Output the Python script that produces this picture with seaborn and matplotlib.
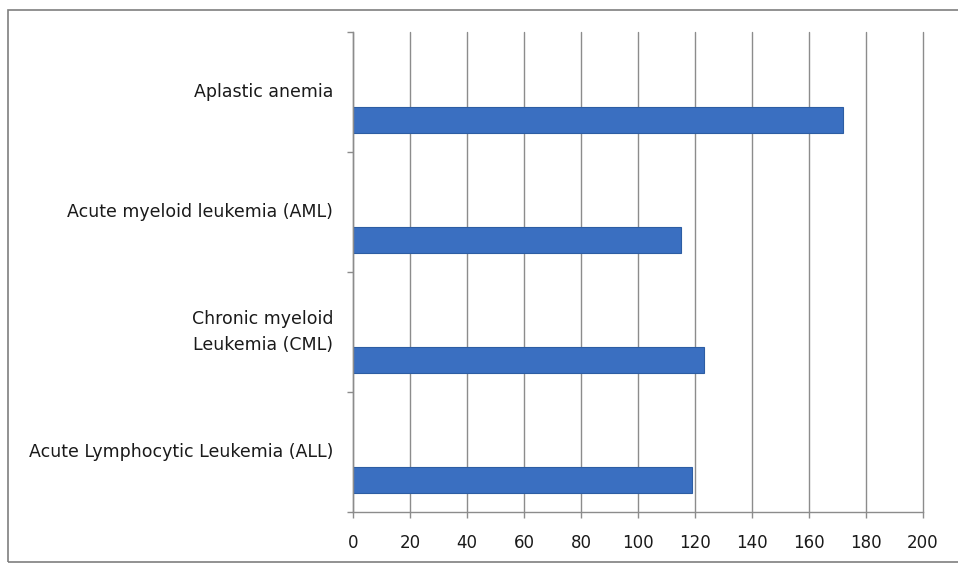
import matplotlib
matplotlib.use("Agg")
import matplotlib.pyplot as plt
import matplotlib.transforms as mtransforms
from matplotlib.patches import Rectangle
import numpy as np
import pandas as pd
import seaborn as sns

# Chart data
categories = [
    "Aplastic anemia",
    "Acute myeloid leukemia (AML)",
    "Chronic myeloid\nLeukemia (CML)",
    "Acute Lymphocytic Leukemia (ALL)",
]
cases = [172, 115, 123, 119]
x_ticks = [0, 20, 40, 60, 80, 100, 120, 140, 160, 180, 200]

sns.set_theme(style="white")
plt.rcParams["font.family"] = ["DejaVu Sans"]

# Two-series layout (second series empty) so each bar sits low in its band
df = pd.DataFrame({
    "category": categories * 2,
    "value": [np.nan] * len(categories) + cases,
    "series": ["blank"] * len(categories) + ["cases"] * len(categories),
})

fig = plt.figure(figsize=(9.58, 5.65), dpi=100)
ax = fig.add_axes([353 / 958, 1 - 512 / 565, (923 - 353) / 958, (512 - 32) / 565])

grid_color = "#8c8c8c"
for t in x_ticks:
    ax.axvline(t, color=grid_color, lw=1.0, zorder=0, clip_on=False)

sns.barplot(
    data=df, x="value", y="category", hue="series",
    hue_order=["blank", "cases"], order=categories,
    palette={"blank": "#3a6fc1", "cases": "#3a6fc1"}, saturation=1,
    orient="h", width=0.93, gap=0.535, dodge=True,
    edgecolor="#2d5da3", linewidth=0.8, legend=False, ax=ax, zorder=2,
)

ax.set_xlim(0, 200)
ax.set_ylim(len(categories) - 0.5, -0.5)
ax.set_xticks(x_ticks)
ax.set_xticklabels([str(t) for t in x_ticks])
ax.set_xlabel("")
ax.set_ylabel("")

# category boundaries get the tick marks, labels sit at the band centres
ax.set_yticks(np.arange(len(categories)))
ax.set_yticklabels(categories)
shift_down = mtransforms.ScaledTranslation(0, -3 / 100, fig.dpi_scale_trans)
for lab in ax.get_yticklabels():
    lab.set_linespacing(1.6)
    lab.set_va("center")
    lab.set_transform(lab.get_transform() + shift_down)
ax.set_yticks(np.arange(len(categories) + 1) - 0.5, minor=True)
ax.tick_params(axis="y", which="major", length=0, pad=14.4, labelsize=12.5, labelcolor="#1a1a1a")
ax.tick_params(axis="y", which="minor", length=4, width=1, color=grid_color, left=True)
ax.tick_params(axis="x", which="major", length=4, width=1, color=grid_color, bottom=True,
               pad=12, labelsize=12, labelcolor="#1a1a1a")

for side in ("top", "right"):
    ax.spines[side].set_visible(False)
for side in ("left", "bottom"):
    ax.spines[side].set_color(grid_color)
    ax.spines[side].set_linewidth(1.0)

# outer chart frame
fig.add_artist(Rectangle((8 / 958, 3 / 565), 1.0, 1 - 13 / 565,
                         transform=fig.transFigure, fill=False,
                         edgecolor="#7f7f7f", lw=1.2))

fig.savefig("out.png", dpi=100)
